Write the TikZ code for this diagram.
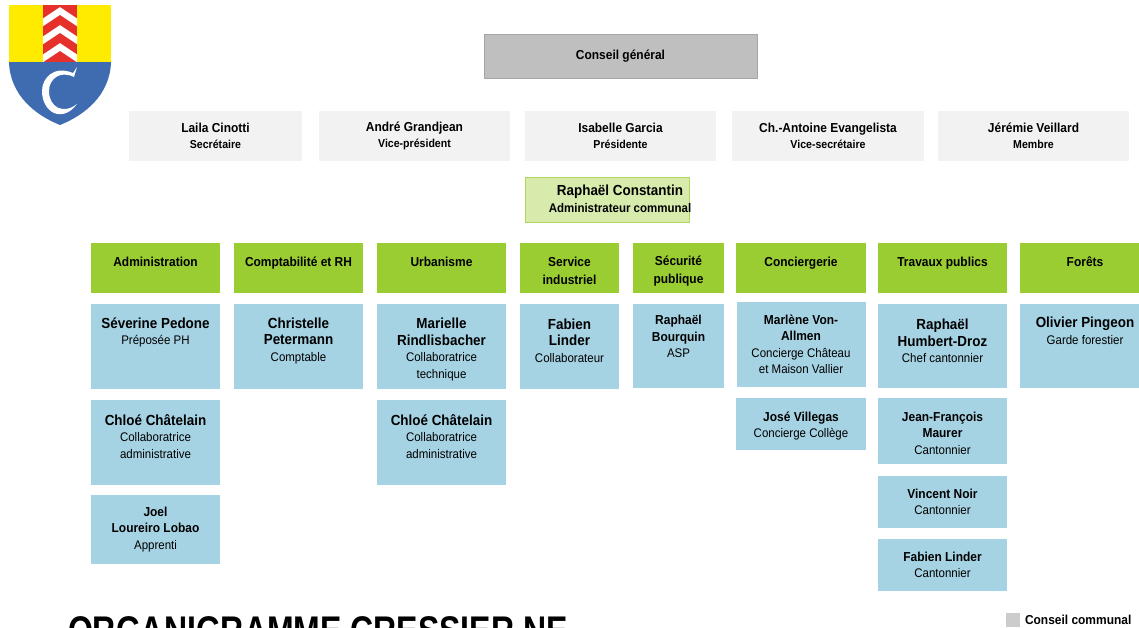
\documentclass[tikz,border=0pt]{standalone}
\usepackage{fontspec}
\usepackage{tikz}
\usetikzlibrary{positioning}
\setmainfont[FakeStretch=0.92]{Liberation Sans}
\newfontfamily\titlefont[FakeStretch=0.8]{Liberation Sans}
\newcommand{\nm}[1]{{\fontsize{13}{17}\selectfont\bfseries #1}}
\newcommand{\nmb}[1]{{\fontsize{14.6}{17}\selectfont\bfseries #1}}
\definecolor{shieldred}{HTML}{E5302B}
\definecolor{shieldyellow}{HTML}{FFEB00}
\definecolor{shieldblue}{HTML}{3F6CB0}
\definecolor{boxgreen}{HTML}{9ACD32}
\definecolor{boxblue}{HTML}{A6D3E3}

\begin{document}
\begin{tikzpicture}[x=1pt,y=-1pt]
    \tikzset{
        box/.style      =   { rectangle
                            , inner sep=0pt
                            , outer sep=0pt
                            , align=center
                            , text=black
                            , font=\fontsize{12.5}{16.5}\selectfont
                            }
        , board/.style  =   { box
                            , fill=black!5
                            , minimum height=50pt
                            , anchor=north west
                            , font=\fontsize{11.5}{16}\selectfont
                            }
        , head/.style   =   { box
                            , fill=boxgreen
                            , minimum height=50pt
                            , anchor=north west
                            }
        , person/.style =   { box
                            , fill=boxblue
                            }
    }
    \useasboundingbox (0,0) rectangle (1139,627);
    \clip (0,0) rectangle (1139,627);

    % shield
    \fill[shieldyellow] (9,5) rectangle (111,62);
    \fill[shieldblue] (9,62) -- (111,62) .. controls (110,95) and (85,115) .. (60,125)
        .. controls (35,115) and (10,95) .. (9,62) -- cycle;
    \begin{scope}
        \clip (43,5) rectangle (77,62);
        \fill[shieldred] (43,5) rectangle (77,62);
        \foreach \y in {11,29,47}
            \draw[white,line width=6.5pt] (36,\y+16) -- (60,\y) -- (84,\y+16);
    \end{scope}
    \fill[white] (77,67) -- (73,73) .. controls (54,65) and (42,78) .. (42,91)
        .. controls (42,112) and (62,124) .. (77,104)
        .. controls (63,115) and (49,107) .. (49,91)
        .. controls (49,79) and (60,70) .. (74,77) -- cycle;

    % council
    \node(cg)[box,fill=black!25,draw=black!35,minimum width=273pt,minimum height=44pt,anchor=north west] at (484,34) {\nm{Conseil général}};
    \node(cinotti)[board,minimum width=173pt] at (129,111) {\nm{Laila Cinotti}\\\textbf{Secrétaire}};
    \node(grandjean)[board,minimum width=191pt] at (319,111) {\nm{André Grandjean}\\\textbf{Vice-président}};
    \node(garcia)[board,minimum width=191pt] at (525,111) {\nm{Isabelle Garcia}\\\textbf{Présidente}};
    \node(evangelista)[board,minimum width=192pt] at (732,111) {\nm{Ch.-Antoine Evangelista}\\\textbf{Vice-secrétaire}};
    \node(veillard)[board,minimum width=191pt] at (938,111) {\nm{Jérémie Veillard}\\\textbf{Membre}};
    \node(constantin)[box,fill=boxgreen!40,draw=boxgreen!80,minimum width=164pt,minimum height=45pt,anchor=north west] at (525,177) {};
    \node(constantintxt)[box] at (620,199) {\nmb{Raphaël Constantin}\\\textbf{Administrateur communal}};

    % services
    \node(adm)[head,minimum width=129pt] at (91,243) {\nm{Administration}\\[-4pt]~};
    \node(compta)[head,minimum width=129pt] at (234,243) {\nm{Comptabilité et RH}\\[-3pt]~};
    \node(urba)[head,minimum width=129pt] at (377,243) {\nm{Urbanisme}\\[-4pt]~};
    \node(indus)[head,minimum width=99pt] at (520,243) {~\\[-1pt]\nm{Service}\\[2pt]\nm{industriel}};
    \node(secu)[head,minimum width=91pt] at (633,243) {~\\[-1pt]\nm{Sécurité}\\[2pt]\nm{publique}};
    \node(conc)[head,minimum width=130pt] at (736,243) {\nm{Conciergerie}\\[-4pt]~};
    \node(trav)[head,minimum width=129pt] at (878,243) {\nm{Travaux publics}\\[-4pt]~};
    \node(forets)[head,minimum width=130pt] at (1020,243) {\nm{Forêts}\\[-4pt]~};

    % people
    \node(pedone)[person,below=11pt of adm,minimum width=129pt,minimum height=85pt] {\nmb{Séverine Pedone}\\Préposée PH\\[14pt]~};
    \node(chatelain)[person,below=11pt of pedone,minimum width=129pt,minimum height=85pt] {\nmb{Chloé Châtelain}\\Collaboratrice\\administrative\\[-4pt]~};
    \node(lobao)[person,below=10pt of chatelain,minimum width=129pt,minimum height=69pt] {\nm{Joel}\\\nm{Loureiro Lobao}\\Apprenti};
    \node(petermann)[person,below=11pt of compta,minimum width=129pt,minimum height=85pt] {\nmb{Christelle}\\\nmb{Petermann}\\Comptable\\[-2pt]~};
    \node(rindlisbacher)[person,below=11pt of urba,minimum width=129pt,minimum height=85pt] {~\\[0pt]\nmb{Marielle}\\\nmb{Rindlisbacher}\\Collaboratrice\\technique};
    \node(chatelainb)[person,below=11pt of rindlisbacher,minimum width=129pt,minimum height=85pt] {\nmb{Chloé Châtelain}\\Collaboratrice\\administrative\\[-4pt]~};
    \node(linder)[person,below=11pt of indus,minimum width=99pt,minimum height=85pt] {\nmb{Fabien}\\\nmb{Linder}\\Collaborateur\\[-4pt]~};
    \node(bourquin)[person,below=11pt of secu,minimum width=91pt,minimum height=84pt] {\nm{Raphaël}\\\nm{Bourquin}\\ASP\\[2pt]~};
    \node(vonallmen)[person,below=9pt of conc,minimum width=129pt,minimum height=85pt] {\nm{Marlène Von-}\\\nm{Allmen}\\Concierge Château\\et Maison Vallier};
    \node(villegas)[person,below=11pt of vonallmen,minimum width=130pt,minimum height=52pt] {~\\[-3pt]\nm{José Villegas}\\Concierge Collège};
    \node(humbert)[person,below=11pt of trav,minimum width=129pt,minimum height=84pt] {\nmb{Raphaël}\\\nmb{Humbert-Droz}\\Chef cantonnier\\[-6pt]~};
    \node(maurer)[person,below=10pt of humbert,minimum width=129pt,minimum height=66pt] {~\\[-3pt]\nm{Jean-François}\\\nm{Maurer}\\Cantonnier};
    \node(noir)[person,below=12pt of maurer,minimum width=129pt,minimum height=52pt] {\nm{Vincent Noir}\\Cantonnier};
    \node(linderb)[person,below=11pt of noir,minimum width=129pt,minimum height=52pt] {\nm{Fabien Linder}\\Cantonnier};
    \node(pingeon)[person,below=11pt of forets,minimum width=130pt,minimum height=84pt] {\nmb{Olivier Pingeon}\\Garde forestier\\[14pt]~};

    % footer
    \node(titre)[box,anchor=base west] at (68,644) {\titlefont\bfseries\fontsize{40}{40}\selectfont ORGANIGRAMME CRESSIER NE};
    \node(legcolor)[box,fill=black!20,minimum size=14pt,anchor=north west] at (1006,613) {};
    \node(legend)[box,right=5pt of legcolor] {\nm{Conseil communal}};
\end{tikzpicture}
\end{document}
